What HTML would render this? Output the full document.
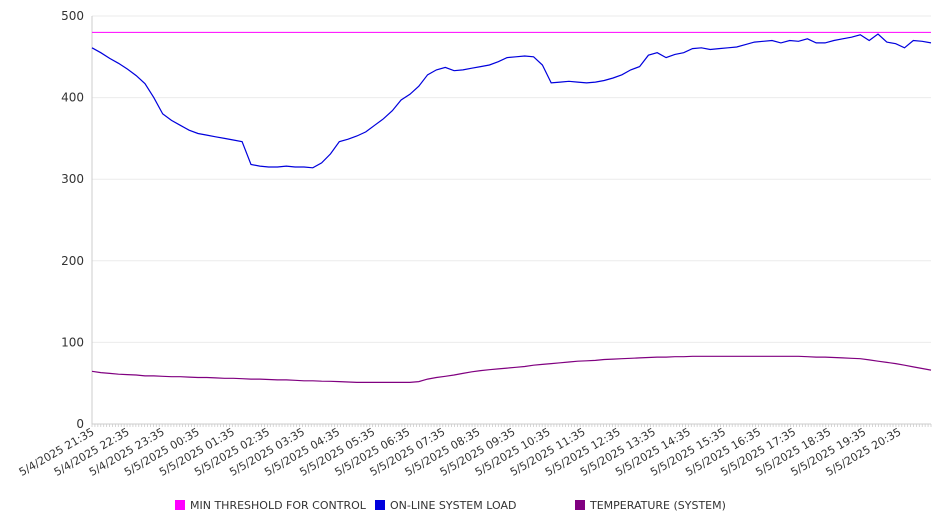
<!DOCTYPE html>
<html><head><meta charset="utf-8"><style>
body{margin:0;background:#fff;}
svg text{font-family:"DejaVu Sans","Liberation Sans",sans-serif;fill:#333;}
</style></head><body>
<svg id="chart" width="946" height="526" viewBox="0 0 946 526" xmlns="http://www.w3.org/2000/svg">
<g id="grid"></g>
<g id="axes"></g>
<g id="series"></g>
<g id="legend"></g>
</svg>
<script>
const yTicks=[0,100,200,300,400,500];
const xLabels=["5/4/2025 21:35","5/4/2025 22:35","5/4/2025 23:35","5/5/2025 00:35","5/5/2025 01:35","5/5/2025 02:35","5/5/2025 03:35","5/5/2025 04:35","5/5/2025 05:35","5/5/2025 06:35","5/5/2025 07:35","5/5/2025 08:35","5/5/2025 09:35","5/5/2025 10:35","5/5/2025 11:35","5/5/2025 12:35","5/5/2025 13:35","5/5/2025 14:35","5/5/2025 15:35","5/5/2025 16:35","5/5/2025 17:35","5/5/2025 18:35","5/5/2025 19:35","5/5/2025 20:35"];
const stepMinutes=15;
const threshold=480;
const loadValues=[461,455,448,442,435,427,417,400,380,372,366,360,356,354,352,350,348,346,318,316,315,315,316,315,315,314,320,331,346,349,353,358,366,374,384,397,404,414,428,434,437,433,434,436,438,440,444,449,450,451,450,440,418,419,420,419,418,419,421,424,428,434,438,452,455,449,453,455,460,461,459,460,461,462,465,468,469,470,467,470,469,472,467,467,470,472,474,477,470,478,468,466,461,470,469,467];
const tempValues=[64.6,63,62,61,60.5,60,59,59,58.5,58,58,57.5,57,57,56.5,56,56,55.5,55,55,54.5,54,54,53.5,53,53,52.5,52.3,52,51.5,51,51,51,51,51,51,51,52,55,57,58.5,60,62,64,65.5,66.5,67.5,68.5,69.5,70.5,72,73,74,75,76,77,77.5,78,79,79.5,80,80.5,81,81.5,82,82,82.5,82.5,83,83,83,83,83,83,83,83,83,83,83,83,83,82.5,82,82,81.5,81,80.5,80,78.5,77,75.5,74,72,70,68,66];
const seriesNames=["MIN THRESHOLD FOR CONTROL","ON-LINE SYSTEM LOAD","TEMPERATURE (SYSTEM)"];
const seriesColors=["#ff00ff","#0000dd","#800080"];

const NS="http://www.w3.org/2000/svg";
const L=92,R=931,T=16,B=424;
const maxMin=(loadValues.length-1)*stepMinutes;
const xScale=m=>L+(m/maxMin)*(R-L);
const yScale=v=>B-(v/500)*(B-T);
function mk(tag,attrs,parent){const e=document.createElementNS(NS,tag);for(const k in attrs)e.setAttribute(k,attrs[k]);parent.appendChild(e);return e;}
const grid=document.getElementById('grid'),axes=document.getElementById('axes'),series=document.getElementById('series'),legend=document.getElementById('legend');

yTicks.forEach(v=>{
  const y=yScale(v);
  if(v>0){const g=mk('line',{x1:L,x2:R,y1:y,y2:y,stroke:'#ebebeb','stroke-width':1},grid);
  
  }
  const t=mk('text',{x:84,y:y+4,'text-anchor':'end','font-size':12},axes);
  t.textContent=v;
  
  
});
const ya=mk('line',{x1:L,x2:L,y1:T,y2:B,stroke:'#ccc'},axes);


const xa=mk('line',{x1:L,x2:R,y1:B,y2:B,stroke:'#ccc'},axes);


for(let m=0;m<=1435;m+=5){
  const x=L+(m/1435)*(R-L);
  const tk=mk('line',{x1:x,x2:x,y1:B,y2:B+3,stroke:'#ccc','stroke-width':0.8},axes);
  
  
}
xLabels.forEach((s,i)=>{
  const x=L+(i*60/1435)*(R-L)+3;
  const t=mk('text',{x:x,y:434,'text-anchor':'end','font-size':11,transform:`rotate(-30 ${x} 434)`},axes);
  t.textContent=s;
  
  
});

const th=mk('line',{x1:L,x2:R,y1:yScale(threshold),y2:yScale(threshold),stroke:seriesColors[0],'stroke-width':1},series);


function line(vals,color,name){
  const d=vals.map((v,i)=>(i?'L':'M')+xScale(i*stepMinutes).toFixed(1)+' '+yScale(v).toFixed(1)).join(' ');
  const p=mk('path',{d:d,fill:'none',stroke:color,'stroke-width':1.2},series);
  
  
}
line(loadValues,seriesColors[1],'system-load-line');
line(tempValues,seriesColors[2],'temperature-line');

const lx=[175,375,575];
seriesNames.forEach((n,i)=>{
  const g=mk('g',{},legend);
  
  
  mk('rect',{x:lx[i],y:500,width:10,height:10,fill:seriesColors[i]},g);
  const t=mk('text',{x:lx[i]+15,y:509,'font-size':11},g);
  t.textContent=n;
});
</script>
</body></html>
